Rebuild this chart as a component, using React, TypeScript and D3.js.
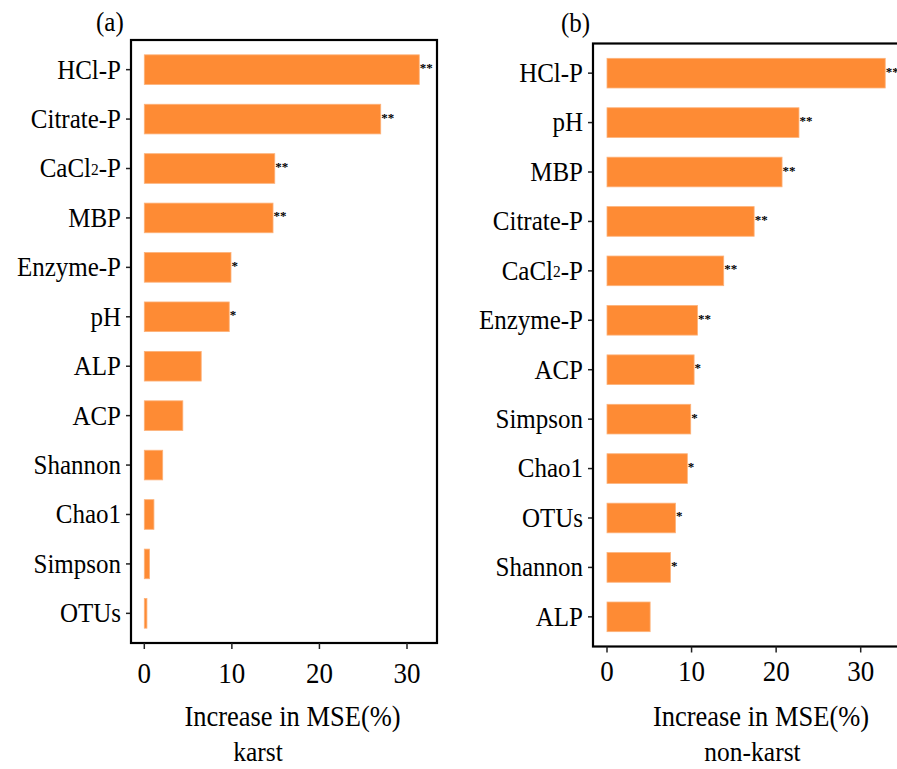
import React from 'react';
import * as d3 from 'd3';

// karst panel (a), top to bottom
const karstVars = ['HCl-P', 'Citrate-P', 'CaCl2-P', 'MBP', 'Enzyme-P', 'pH', 'ALP', 'ACP', 'Shannon', 'Chao1', 'Simpson', 'OTUs'];
const karstValues = [31.4, 27.0, 14.9, 14.7, 9.9, 9.7, 6.5, 4.4, 2.1, 1.1, 0.6, 0.3];
const karstSig = ['**', '**', '**', '**', '*', '*', '', '', '', '', '', ''];

// non-karst panel (b), top to bottom
const nonKarstVars = ['HCl-P', 'pH', 'MBP', 'Citrate-P', 'CaCl2-P', 'Enzyme-P', 'ACP', 'Simpson', 'Chao1', 'OTUs', 'Shannon', 'ALP'];
const nonKarstValues = [32.9, 22.7, 20.7, 17.4, 13.8, 10.7, 10.3, 9.9, 9.5, 8.1, 7.5, 5.1];
const nonKarstSig = ['**', '**', '**', '**', '**', '**', '*', '*', '*', '*', '*', ''];

const xTicks = [0, 10, 20, 30];

const BAR = '#FE8B34';
const FONT = "'Liberation Serif', 'Times New Roman', serif";

// text is a bit taller than wide in the original
const st = (x: number, y: number) => `translate(${x},${y}) scale(1,1.1)`;

const Label = ({ name, x, y, size }: { name: string; x: number; y: number; size: number }) => {
  if (name === 'CaCl2-P') {
    return (
      <text transform={st(x, y)} textAnchor="end" fontSize={size} dominantBaseline="central">
        CaCl<tspan fontSize={size * 0.62}>2</tspan>-P
      </text>
    );
  }
  return (
    <text transform={st(x, y)} textAnchor="end" fontSize={size} dominantBaseline="central">
      {name}
    </text>
  );
};

type PanelProps = {
  vars: string[];
  values: number[];
  sig: string[];
  frame: { left: number; top: number; right: number; bottom: number };
  x0: number;
  x30: number;
  tag: string;
  tagX: number;
  tagY: number;
  title: string;
  titleX: number;
  sub: string;
  subX: number;
  tickY: number;
  labelGap: number;
  labelSize: number;
};

const Panel = (p: PanelProps) => {
  const { frame } = p;
  const x = d3.scaleLinear().domain([0, 30]).range([p.x0, p.x30]);
  const y = d3.scaleBand<string>().domain(p.vars).range([frame.top, frame.bottom]).paddingInner(0.4).paddingOuter(0.3);
  const bw = y.bandwidth();

  return (
    <g>
      {p.vars.map((v, i) => (
        <g key={v}>
          <rect
            x={x(0)}
            y={y(v)}
            width={x(p.values[i]) - x(0)}
            height={bw}
            fill={BAR}
            stroke="#FDB27A"
            strokeWidth={0.8}
          />
          {p.sig[i] && (
            <text x={x(p.values[i]) + 0.5} y={(y(v) as number) + bw / 2 + 2.5} fontSize={13} fontWeight="bold">
              {p.sig[i]}
            </text>
          )}
          <line x1={frame.left - 5} x2={frame.left} y1={(y(v) as number) + bw / 2} y2={(y(v) as number) + bw / 2} stroke="#222" strokeWidth={1.5} />
          <Label name={v} x={frame.left - p.labelGap} y={(y(v) as number) + bw / 2} size={p.labelSize} />
        </g>
      ))}
      <rect x={frame.left} y={frame.top} width={frame.right - frame.left} height={frame.bottom - frame.top} fill="none" stroke="#000" strokeWidth={2.2} />
      {xTicks.map((t) => (
        <g key={t}>
          <line x1={x(t)} x2={x(t)} y1={frame.bottom} y2={frame.bottom + 6} stroke="#222" strokeWidth={1.5} />
          <text transform={st(x(t), p.tickY)} textAnchor="middle" fontSize={27}>
            {t}
          </text>
        </g>
      ))}
      <text transform={st(p.titleX, 726)} textAnchor="middle" fontSize={26.5}>
        {p.title}
      </text>
      <text transform={st(p.subX, 761)} textAnchor="middle" fontSize={25.5}>
        {p.sub}
      </text>
      <text transform={st(p.tagX, p.tagY)} fontSize={25}>
        {p.tag}
      </text>
    </g>
  );
};

export default function App() {
  return (
    <svg
      width={897}
      height={769}
      style={{ display: 'block', position: 'absolute', left: 0, top: 0, background: '#fff', fontFamily: FONT }}
    >
      <Panel
        vars={karstVars}
        values={karstValues}
        sig={karstSig}
        frame={{ left: 131, top: 40, right: 437, bottom: 643 }}
        x0={144.3}
        x30={407}
        tag="(a)"
        tagX={96}
        tagY={31}
        title="Increase in MSE(%)"
        titleX={292.5}
        sub="karst"
        subX={258}
        tickY={683}
        labelGap={10}
        labelSize={25}
      />
      <Panel
        vars={nonKarstVars}
        values={nonKarstValues}
        sig={nonKarstSig}
        frame={{ left: 593, top: 43.5, right: 905, bottom: 646.5 }}
        x0={607}
        x30={860.7}
        tag="(b)"
        tagX={561}
        tagY={32}
        title="Increase in MSE(%)"
        titleX={761}
        sub="non-karst"
        subX={752.5}
        tickY={681}
        labelGap={10}
        labelSize={25}
      />
    </svg>
  );
}
